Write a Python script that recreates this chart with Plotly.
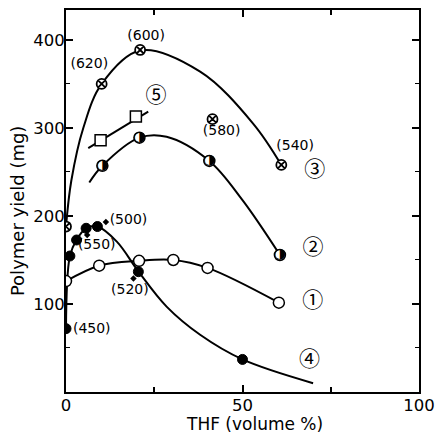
import plotly.graph_objects as go

# ---- data ----
# series 1 (open circles)
s1_x = [0, 9.4, 20.7, 30.4, 40.1, 60.3]
s1_y = [126, 143.5, 149, 150, 141, 101.5]
# series 2 (half-filled circles)
s2_x = [10.3, 20.8, 40.6, 60.6]
s2_y = [257, 289, 262.5, 155.7]
c2_x = [6.6, 10.3, 20.8, 28.5, 40.6, 50, 60.6]
c2_y = [238, 257, 289, 290, 262.5, 218, 155.7]
# series 3 (circled x)
s3_x = [0, 10.1, 21, 41.5, 61]
s3_y = [188, 350, 388.6, 310, 258]
c3_x = [0, 1.5, 4.9, 10.1, 21, 38, 53, 61]
c3_y = [188, 240, 300, 350, 388, 364, 305, 258]
# series 4 (filled circles)
s4_x = [0, 1.1, 3, 5.7, 8.9, 20.5, 50]
s4_y = [72, 154.5, 172.7, 186, 188, 136.7, 37]
c4_x = [0, 1.1, 3, 5.7, 8.9, 14.4, 20.5, 28.5, 38, 50, 70]
c4_y = [72, 154.5, 173, 186, 188, 170.8, 137, 97, 65, 37, 10]
# series 5 (open squares)
s5_x = [9.8, 19.8]
s5_y = [286, 313]
c5_x = [6.3, 23.3]
c5_y = [277, 318.5]

# temperature labels
lab_text = ["(620)", "(600)", "(580)", "(540)", "(500)", "(550)", "(520)", "(450)"]
lab_x = [6.6, 22.7, 44.1, 64.9, 17.7, 8.7, 18.1, 7.3]
lab_y = [371.6, 403.8, 295.8, 278.8, 194.7, 167, 115, 70.5]
# small pointer dots
dot_x = [11.3, 6.0, 19.1]
dot_y = [193, 178.4, 129]

# series numbers
num_text = ["⑤", "③", "②", "①", "④"]
num_x = [25.5, 70.5, 70, 69.9, 69]
num_y = [335, 251.5, 163, 102.6, 36]

x_ticks = [0, 50, 100]
y_ticks = [100, 200, 300, 400]

x_title = "THF (volume %)"
y_title = "Polymer yield (mg)"

FONT = "DejaVu Sans"

fig = go.Figure()
for cx, cy in [(s1_x, s1_y), (c2_x, c2_y), (c3_x, c3_y), (c4_x, c4_y)]:
    fig.add_trace(go.Scatter(x=cx, y=cy, mode="lines",
                             line=dict(color="black", width=2, shape="spline", smoothing=1.0),
                             hoverinfo="skip"))
fig.add_trace(go.Scatter(x=c5_x, y=c5_y, mode="lines", line=dict(color="black", width=2)))

fig.add_trace(go.Scatter(x=s1_x, y=s1_y, mode="markers",
                         marker=dict(symbol="circle", size=11, color="white", line=dict(color="black", width=1.5))))
fig.add_trace(go.Scatter(x=s2_x, y=s2_y, mode="markers",
                         marker=dict(symbol="circle", size=11, color="white", line=dict(color="black", width=1.5))))
fig.add_trace(go.Scatter(x=s2_x, y=s2_y, mode="text", text=["◑"] * len(s2_x), textposition="middle center",
                         textfont=dict(size=14, color="black", family=FONT)))
fig.add_trace(go.Scatter(x=s3_x, y=s3_y, mode="markers",
                         marker=dict(symbol="circle-x", size=10, color="white", line=dict(color="black", width=1.8))))
fig.add_trace(go.Scatter(x=s4_x, y=s4_y, mode="markers",
                         marker=dict(symbol="circle", size=10, color="black", line=dict(color="black", width=1))))
fig.add_trace(go.Scatter(x=s5_x, y=s5_y, mode="markers",
                         marker=dict(symbol="square", size=11, color="white", line=dict(color="black", width=1.5))))
fig.add_trace(go.Scatter(x=dot_x, y=dot_y, mode="markers",
                         marker=dict(symbol="diamond", size=5, color="black")))
fig.add_trace(go.Scatter(x=lab_x, y=lab_y, mode="text", text=lab_text, textposition="middle center",
                         textfont=dict(size=14, color="black", family=FONT)))
fig.add_trace(go.Scatter(x=num_x, y=num_y, mode="text", text=num_text, textposition="middle center",
                         textfont=dict(size=21, color="black", family="Noto Sans CJK JP")))

axis_common = dict(showgrid=False, zeroline=False, showline=True, linecolor="black", linewidth=2,
                   mirror="ticks", ticks="inside", ticklen=7, tickcolor="black", tickwidth=2,
                   automargin=False,
                   tickfont=dict(size=16.5, color="black", family=FONT))
fig.update_xaxes(range=[0, 100], tickvals=x_ticks, ticktext=[str(v) for v in x_ticks],
                 ticklabelstandoff=-3,
                 minor=dict(tickvals=[25, 75], ticks="inside", ticklen=5, tickcolor="black", tickwidth=1.5),
                 **axis_common)
fig.update_yaxes(range=[0, 434], tickvals=y_ticks, ticktext=[str(v) for v in y_ticks],
                 ticklabelstandoff=-4,
                 minor=dict(tickvals=[50, 150, 250, 350], ticks="inside", ticklen=4, tickcolor="black", tickwidth=1),
                 **axis_common)
fig.add_annotation(text=x_title, xref="paper", yref="paper", x=0.535, y=-0.0838,
                   xanchor="center", yanchor="middle", showarrow=False,
                   font=dict(size=17, color="black", family=FONT))
fig.add_annotation(text=y_title, xref="paper", yref="paper", x=-0.139, y=0.476, textangle=-90,
                   xanchor="center", yanchor="middle", showarrow=False,
                   font=dict(size=18, color="black", family=FONT))
fig.update_layout(width=437, height=435, margin=dict(l=66, r=18, t=10, b=43),
                  plot_bgcolor="white", paper_bgcolor="white", showlegend=False)
fig.write_html("out.html")
